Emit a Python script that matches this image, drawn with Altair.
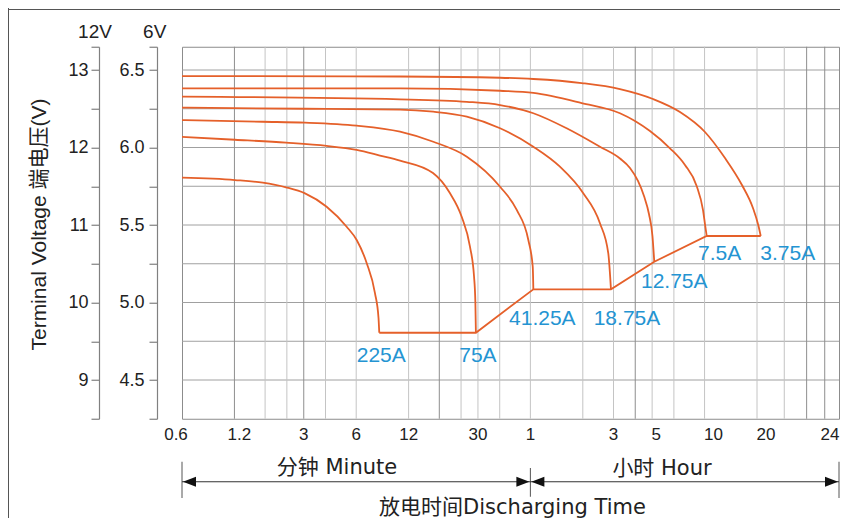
import altair as alt
import pandas as pd

# ---------------- data (time in minutes, voltage on the 6V scale) ----------------
CURRENTS = ["225A", "75A", "41.25A", "18.75A", "12.75A", "7.5A", "3.75A"]

T_225A = [0.6, 1.209, 1.744, 2.372, 3.05, 4.06, 5.29, 6.04, 6.89, 7.69, 8.06, 8.14]
V_225A = [5.805, 5.790, 5.773, 5.743, 5.704, 5.618, 5.489, 5.403, 5.255, 5.061, 4.90, 4.805]

T_75A = [0.6, 1.209, 2.372, 4.06, 6.04, 8.21, 10.71, 16.56, 20.7, 24.2, 27.0, 28.5, 29.0, 29.2]
V_75A = [6.068, 6.050, 6.031, 6.010, 5.984, 5.948, 5.915, 5.835, 5.706, 5.553, 5.360, 5.166, 5.0, 4.805]

T_41A = [0.6, 1.744, 3.05, 6.04, 10.71, 16.63, 25.9, 40.2, 50.1, 58.4, 61.9, 62.4]
V_41A = [6.177, 6.166, 6.160, 6.141, 6.102, 6.037, 5.941, 5.747, 5.597, 5.403, 5.231, 5.085]

T_18A = [0.6, 3.05, 10.71, 16.63, 25.9, 40.2, 62.4, 88.7, 120.7, 150.5, 168.0, 174.1]
V_18A = [6.257, 6.250, 6.245, 6.231, 6.199, 6.124, 6.005, 5.876, 5.705, 5.511, 5.318, 5.085]

T_12A = [0.6, 10.71, 25.9, 40.2, 62.4, 96.9, 150.5, 196.1, 223.9, 248.8, 269.4, 287.7, 301.3, 308.6]
V_12A = [6.328, 6.311, 6.295, 6.274, 6.221, 6.124, 6.005, 5.929, 5.868, 5.784, 5.687, 5.571, 5.429, 5.263]

T_7A = [0.6, 10.71, 40.2, 62.4, 118.2, 196.1, 239.2, 291.6, 379.8, 463.1, 540.4, 587.5, 603.2, 617]
V_7A = [6.382, 6.382, 6.366, 6.352, 6.287, 6.221, 6.171, 6.106, 5.995, 5.887, 5.752, 5.597, 5.506, 5.429]

T_3A = [0.6, 10.71, 40.2, 62.4, 118.2, 196.1, 303.4, 433.6, 603.2, 785.8, 983.6, 1137.5, 1204, 1210]
V_3A = [6.461, 6.458, 6.450, 6.442, 6.416, 6.377, 6.313, 6.229, 6.100, 5.932, 5.758, 5.610, 5.494, 5.429]

SERIES = [(T_225A, V_225A), (T_75A, V_75A), (T_41A, V_41A), (T_18A, V_18A),
          (T_12A, V_12A), (T_7A, V_7A), (T_3A, V_3A)]

X_TICKS = [0.6, 1.2, 3, 6, 12, 30, 60, 180, 300, 600, 1200, 1440]
X_LABELS = ["0.6", "1.2", "3", "6", "12", "30", "1", "3", "5", "10", "20", "24"]
X_DOMAIN = [0.6, 1200, 1440]
GRID_LIGHT = [1.8, 2.4, 4, 6, 12, 24, 30, 40, 60, 120, 180, 300, 400, 600, 1200, 1275]
GRID_DARK = [1.2, 3, 18, 240, 1340, 1395]
Y_GRID = [4.5, 4.75, 5.0, 5.25, 5.5, 5.75, 6.0, 6.25, 6.5]
Y_TICKS = [4.25] + Y_GRID + [6.65]
Y_DOMAIN = [4.25, 6.65]
MINUTE_SPAN = [0.6, 60]
HOUR_SPAN = [60, 1440]

# ---------------- tables ----------------
rows = []
ends = []
for k, (name, (ts, vs)) in enumerate(zip(CURRENTS, SERIES)):
    for i, (t, v) in enumerate(zip(ts, vs)):
        rows.append({"curve": name, "i": i, "t": t, "v": v})
    ends.append({"curve": name, "k": k, "t": ts[-1], "v": vs[-1]})
df = pd.DataFrame(rows)
end_df = pd.DataFrame(ends)

# ---------------- styles ----------------
W, H = 657, 372
FONT = "Liberation Sans, Arial, Noto Sans CJK SC, sans-serif"
WIDE = "DejaVu Sans, Noto Sans CJK SC, sans-serif"
ORANGE = "#E5602A"
BLUE = "#2494D2"
TXT = "#222222"
AX = "#808080"

# horizontal nudges (px) of some time labels
LABEL_NUDGE = {0.6: -6, 1.2: 5, 300: 4, 600: 9, 1200: 9, 1440: -9}

xscale = alt.Scale(type="log", domain=X_DOMAIN, range=[0, 575, W], nice=False)
yscale = alt.Scale(domain=Y_DOMAIN, nice=False, zero=False)

HALF = "abs(datum.value*2 - round(datum.value*2)) < 0.001"
axis6 = alt.Axis(orient="left", offset=25, values=Y_TICKS,
                 labelExpr=HALF + " ? format(datum.value, '.1f') : ''",
                 tickSize=8, labelPadding=5, grid=False, title=None,
                 domainColor=AX, tickColor=AX, domainWidth=1.2, tickWidth=1.2,
                 labelFont=FONT, labelFontSize=18, labelColor=TXT, labelOverlap=False)
axis12 = alt.Axis(orient="left", offset=83, values=Y_TICKS,
                  labelExpr=HALF + " ? format(datum.value*2, 'd') : ''",
                  tickSize=8, labelPadding=3, grid=False, title=None,
                  domainColor=AX, tickColor=AX, domainWidth=1.2, tickWidth=1.2,
                  labelFont=FONT, labelFontSize=18, labelColor=TXT, labelOverlap=False)


def X(f="t:Q"):
    return alt.X(f, scale=xscale, axis=None)


def Y(f="v:Q", axis=None):
    return alt.Y(f, scale=yscale, axis=axis)


# ---------------- layers ----------------
grid_h = alt.Chart(pd.DataFrame({"v": Y_GRID})).mark_rule(color="#a0a0a0", strokeWidth=1).encode(y=Y())
ax6 = alt.Chart(pd.DataFrame({"v": Y_TICKS})).mark_rule(opacity=0).encode(y=Y(axis=axis6))
ax12 = alt.Chart(pd.DataFrame({"v": Y_TICKS})).mark_rule(opacity=0).encode(y=Y(axis=axis12))
grid_vl = alt.Chart(pd.DataFrame({"t": GRID_LIGHT})).mark_rule(color="#c4c4c4", strokeWidth=1).encode(x=X())
grid_vd = alt.Chart(pd.DataFrame({"t": GRID_DARK})).mark_rule(color="#8e8e8e", strokeWidth=1).encode(x=X())

curves = alt.Chart(df).mark_line(color=ORANGE, strokeWidth=1.8, interpolate="monotone").encode(
    x=X(), y=Y(), detail="curve:N", order="i:Q")
cutoff = alt.Chart(end_df).mark_line(color=ORANGE, strokeWidth=1.8).encode(x=X(), y=Y(), order="k:Q")

# time tick labels (drawn through the x scale)
tick_labels = []
for v, s in zip(X_TICKS, X_LABELS):
    tick_labels.append(alt.Chart(pd.DataFrame({"t": [v], "s": [s]})).mark_text(
        dx=LABEL_NUDGE.get(v, 0), font=FONT, fontSize=17, color=TXT, baseline="top", align="center"
    ).encode(x=X(), y=alt.value(H + 8), text="s:N"))

LABEL_OFFSET = {"225A": (2, 23), "75A": (2, 23), "41.25A": (9, 30), "18.75A": (16, 30),
                "12.75A": (20, 20), "7.5A": (13, 18), "3.75A": (27, 18)}
labels = []
for name in CURRENTS:
    dx, dy = LABEL_OFFSET[name]
    labels.append(alt.Chart(end_df[end_df.curve == name]).mark_text(
        dx=dx, dy=dy, font=FONT, fontSize=21, color=BLUE, baseline="middle", align="center"
    ).encode(x=X(), y=Y(), text="curve:N"))

# bottom arrows
bars = alt.Chart(pd.DataFrame({"t": [MINUTE_SPAN[0], HOUR_SPAN[1]]})).mark_rule(color="#555", strokeWidth=1).encode(
    x=X(), y=alt.value(415), y2=alt.value(451.25))
sep = alt.Chart(pd.DataFrame({"t": [MINUTE_SPAN[1]]})).mark_rule(color="#555", strokeWidth=1).encode(
    x=X(), y=alt.value(421.25), y2=alt.value(450))
arrow_line = alt.Chart(pd.DataFrame({"t": [MINUTE_SPAN[0]], "t2": [HOUR_SPAN[1]]})).mark_rule(color="#333", strokeWidth=1).encode(
    x=X(), x2="t2:Q", y=alt.value(435))
LEFT_HEAD = "M0.15,0L2.15,-0.77L2.15,0.77Z"
RIGHT_HEAD = "M-0.15,0L-2.15,-0.77L-2.15,0.77Z"
heads_l = alt.Chart(pd.DataFrame({"t": [MINUTE_SPAN[0], HOUR_SPAN[0]]})).mark_point(
    shape=LEFT_HEAD, size=169, filled=True, color="#111", opacity=1).encode(x=X(), y=alt.value(435))
heads_r = alt.Chart(pd.DataFrame({"t": [MINUTE_SPAN[1], HOUR_SPAN[1]]})).mark_point(
    shape=RIGHT_HEAD, size=169, filled=True, color="#111", opacity=1).encode(x=X(), y=alt.value(435))


def text_at(s, x, y, font=WIDE, size=21, angle=0, baseline="middle"):
    return alt.Chart(pd.DataFrame({"s": [s]})).mark_text(
        font=font, fontSize=size, color=TXT, angle=angle, baseline=baseline, align="center"
    ).encode(text="s:N", x=alt.value(x), y=alt.value(y))


t_min = text_at("分钟 Minute", 155, 421.5)
t_hour = text_at("小时 Hour", 480, 422.5)
t_dis = text_at("放电时间Discharging Time", 330.5, 461)
t_12v = text_at("12V", -87, -8.5, font=FONT, size=19, baseline="alphabetic")
t_6v = text_at("6V", -27.3, -8.5, font=FONT, size=19, baseline="alphabetic")
t_ytitle = text_at("Terminal Voltage 端电压(V)", -142, 177.75, font=FONT, size=21, angle=270)

dummy = pd.DataFrame({"a": [0]})
frame_top = alt.Chart(dummy).mark_rule(color="#555", strokeWidth=1).encode(
    x=alt.value(-174), x2=alt.value(W + 1), y=alt.value(-37.25))
frame_left = alt.Chart(dummy).mark_rule(color="#555", strokeWidth=1).encode(
    x=alt.value(-173.5), y=alt.value(-38.75), y2=alt.value(472))

chart = alt.layer(
    grid_h, grid_vl, grid_vd, ax6, ax12, curves, cutoff, *tick_labels, *labels,
    bars, sep, arrow_line, heads_l, heads_r,
    t_min, t_hour, t_dis, t_12v, t_6v, t_ytitle, frame_top, frame_left,
).resolve_axis(y="independent").properties(
    width=W, height=H,
    autosize=alt.AutoSizeParams(type="none"),
    padding={"left": 174, "top": 38.75, "right": 1, "bottom": 99.25},
    background="white",
).configure_view(stroke="#8c8c8c", strokeWidth=1)

chart.save("out.html", embed_options={"renderer": "svg", "actions": False})
